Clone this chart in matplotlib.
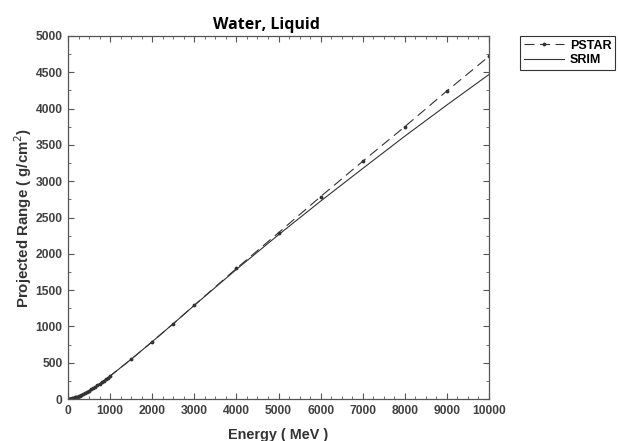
import numpy as np
import matplotlib.pyplot as plt
from matplotlib.ticker import MultipleLocator

# PSTAR (NIST) projected range, water liquid
pstar_energy = [10, 20, 30, 40, 50, 60, 70, 80, 90, 100, 125, 150, 175, 200, 225, 250,
                275, 300, 350, 400, 450, 500, 550, 600, 650, 700, 750, 800, 850, 900,
                950, 1000, 1500, 2000, 2500, 3000, 4000, 5000, 6000, 7000, 8000, 9000, 10000]
pstar_range = [0.12, 0.43, 0.88, 1.46, 2.2, 3.1, 4.1, 5.2, 6.4, 7.7, 11.5, 15.8, 20.7, 26.0,
               31.7, 37.8, 44.1, 51.0, 65.5, 81.0, 97.5, 115.0, 133.0, 151.5, 170.5, 190.0,
               210.0, 230.5, 251.0, 272.0, 293.5, 317.0, 547.0, 789.0, 1037.0, 1291.0, 1798.0,
               2290.0, 2787.0, 3274.0, 3751.0, 4243.0, 4720.0]

# SRIM projected range
srim_energy = [0, 100, 200, 300, 400, 500, 600, 700, 800, 900, 1000, 1500, 2000, 2500,
               3000, 4000, 5000, 6000, 7000, 8000, 9000, 10000]
srim_range = [0, 7.7, 26.0, 51.0, 81.0, 115.0, 151.5, 190.0, 230.5, 272.0, 317.0, 547.0,
              789.0, 1037.0, 1290.0, 1785.0, 2262.0, 2725.0, 3175.0, 3620.0, 4050.0, 4470.0]

fig = plt.figure(figsize=(6.18, 4.41), dpi=100)
ax = fig.add_axes([68 / 618, 1 - 399 / 441, 421 / 618, 363 / 441])

ax.plot(pstar_energy, pstar_range, color='#333333', lw=0.8, linestyle=(0, (9, 5)),
        marker='.', markersize=3.5, label='PSTAR')
ax.plot(srim_energy, srim_range, color='#333333', lw=0.8, label='SRIM')

ax.set_xlim(0, 10000)
ax.set_ylim(0, 5000)
ax.xaxis.set_major_locator(MultipleLocator(1000))
ax.xaxis.set_minor_locator(MultipleLocator(250))
ax.yaxis.set_major_locator(MultipleLocator(500))
ax.yaxis.set_minor_locator(MultipleLocator(250))
ax.tick_params(which='both', direction='in', top=True, right=True, colors='#555555',
               labelcolor='#404040')
ax.tick_params(which='major', length=4, labelsize=8.7, pad=4)
ax.tick_params(which='minor', length=2)
for lab in ax.get_xticklabels() + ax.get_yticklabels():
    lab.set_fontweight('bold')
    lab.set_family('Liberation Sans')
for s in ax.spines.values():
    s.set_color('#555555')
    s.set_linewidth(0.9)

ax.set_title('Water, Liquid', fontsize=11.5, fontweight='bold', family='Open Sans',
             x=0.471, pad=5)
ax.set_xlabel('Energy ( MeV )', fontsize=10.4, fontweight='bold', family='Liberation Sans',
              color='#333333', labelpad=8)
ax.set_ylabel('Projected Range ( g/cm$^2$)', fontsize=10.8, fontweight='bold',
              family='Liberation Sans', color='#333333', labelpad=1)

leg = ax.legend(loc='upper left', bbox_to_anchor=(520 / 618, 1 - 36 / 441),
                bbox_transform=fig.transFigure, fancybox=False, edgecolor='#333333',
                prop={'family': 'Liberation Sans', 'weight': 'bold', 'size': 9},
                handlelength=3.2, borderpad=0.3, labelspacing=0.2, handletextpad=0.5,
                borderaxespad=0, framealpha=1)
leg.get_frame().set_linewidth(0.8)

plt.savefig('out.png', dpi=100)
